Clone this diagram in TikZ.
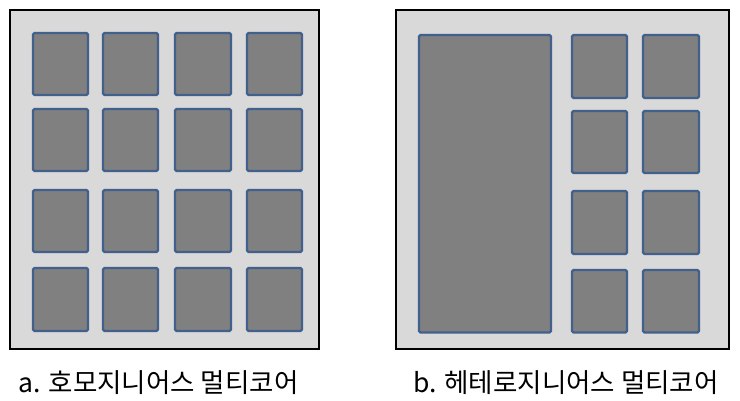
\documentclass[tikz,border=0pt]{standalone}
\usepackage{fontspec}
\newfontfamily\kr{Noto Sans CJK KR}
\definecolor{bggray}{HTML}{D9D9D9}
\definecolor{coregray}{HTML}{808080}
\definecolor{coreblue}{HTML}{41618C}
\begin{document}
\begin{tikzpicture}[x=1pt,y=-1pt,
  frame/.style={draw=black,line width=2.6pt,fill=bggray},
  core/.style={draw=coreblue,line width=2.3pt,fill=coregray,rounded corners=1.5pt},
  caption/.style={font=\kr\fontsize{26.5}{30}\selectfont,inner sep=0pt,anchor=base}]
\useasboundingbox (0,0) rectangle (740,400);
% left: homogeneous
\draw[frame] (10,10) rectangle (319,349);
\foreach \x/\xx [count=\i] in {33/88,103/158,175/231,247/302}{
  \foreach \y/\yy [count=\j] in {33/95,109/171,190/252,268/331}{
    \draw[core] (\x,\y) rectangle (\xx,\yy);
  }
}
\node[caption] (capa) at (158.5,392) {a. 호모지니어스 멀티코어};
% right: heterogeneous
\draw[frame] (396,10) rectangle (729,349);
\draw[core] (419,35) rectangle (551,332.5);
\foreach \x/\xx in {572/627,643/699}{
  \foreach \y/\yy in {35/98,111/173,191/254,270/332.5}{
    \draw[core] (\x,\y) rectangle (\xx,\yy);
  }
}
\node[caption] (capb) at (566,392) {b. 헤테로지니어스 멀티코어};
\end{tikzpicture}
\end{document}
